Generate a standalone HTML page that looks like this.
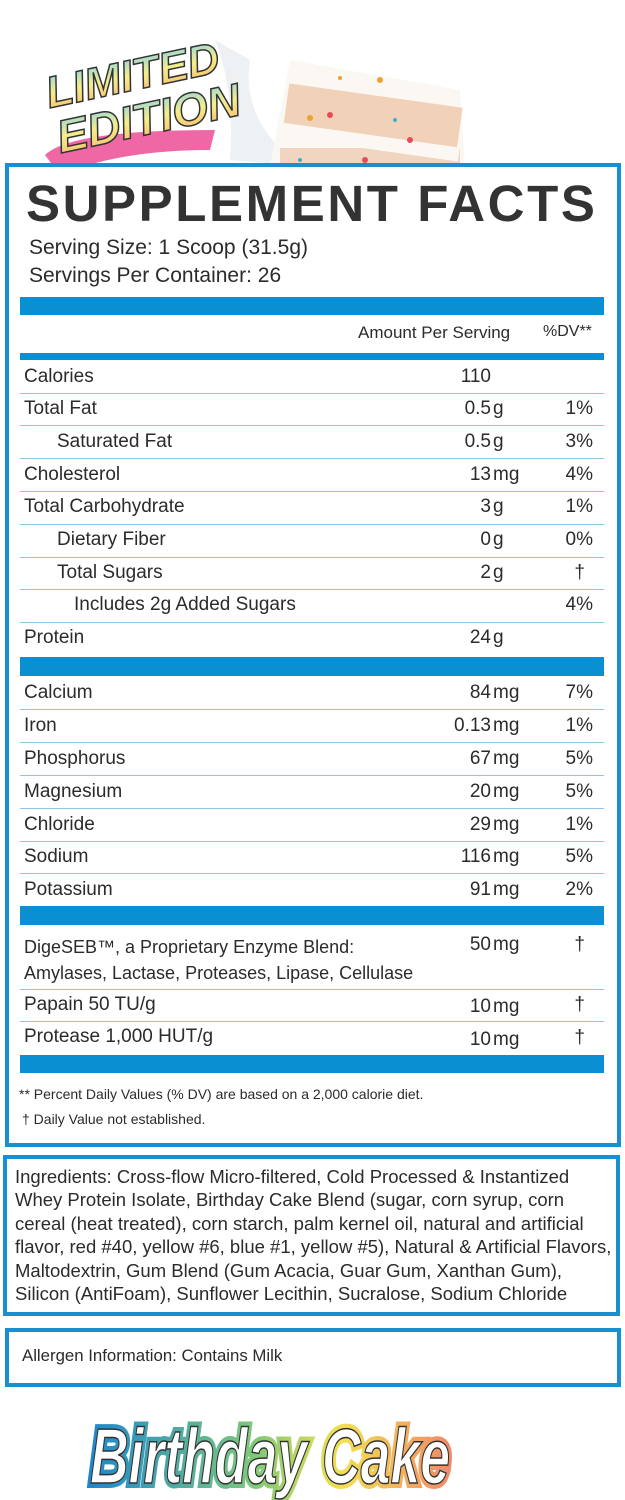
<!DOCTYPE html>
<html><head><meta charset="utf-8"><style>
*{margin:0;padding:0;box-sizing:border-box}
body{width:625px;height:1500px;background:#fff;position:relative;overflow:hidden;font-family:"Liberation Sans",Arial,sans-serif;color:#2b2b2b}
.a{position:absolute;white-space:nowrap}
.box{position:absolute;border:4px solid #1a8fd0}
.bar{position:absolute;left:20px;width:584px;background:#0a8fd3}
.ln{position:absolute;left:20px;width:584px;height:1px;background:#8cc4e4}
.r{font-size:19px;line-height:22px}
.num{position:absolute;right:134px;text-align:right;font-size:19px;line-height:22px}
.unit{position:absolute;left:493px;font-size:19px;line-height:22px}
.dv{position:absolute;right:32px;font-size:19px;line-height:22px;text-align:right}
</style></head><body>
<svg class="a" style="left:0;top:0" width="625" height="166">
 <defs><linearGradient id="g1" x1="0" y1="0" x2="0" y2="1"><stop offset="0" stop-color="#7fd0f0"/><stop offset=".5" stop-color="#f5ee8a"/><stop offset="1" stop-color="#f7b46a"/></linearGradient></defs>
 <path d="M215 40 Q235 90 230 160 L300 166 Q240 120 250 60Z" fill="#eef1f3"/>
 <path d="M290 60 L460 90 L465 166 L270 166Z" fill="#fbf8f3"/>
 <rect x="285" y="95" width="175" height="50" fill="#f1d2b8" transform="rotate(8 370 120)"/>
 <rect x="280" y="148" width="180" height="20" fill="#f0d6c0"/>
 <rect x="280" y="135" width="180" height="14" fill="#fbf7f2" transform="rotate(8 370 140)"/>
 <g fill="#e84a5a"><circle cx="330" cy="115" r="3"/><circle cx="410" cy="140" r="3"/><circle cx="365" cy="160" r="3"/></g>
 <g fill="#3ab0c8"><circle cx="350" cy="170" r="3"/><circle cx="395" cy="120" r="2"/><circle cx="300" cy="160" r="2"/></g>
 <g fill="#f0a030"><circle cx="310" cy="118" r="3"/><circle cx="380" cy="80" r="3"/><circle cx="340" cy="78" r="2"/></g>
 <path d="M45 155 Q70 130 215 130 L210 150 Q120 150 60 175Z" fill="#f067a6"/>
 <text x="45" y="95" font-family="Liberation Sans" font-weight="bold" font-style="italic" font-size="44" fill="url(#g1)" stroke="#333" stroke-width="1.5" transform="rotate(-12 110 80)">LIMITED</text>
 <text x="55" y="140" font-family="Liberation Sans" font-weight="bold" font-style="italic" font-size="46" fill="url(#g1)" stroke="#333" stroke-width="1.5" transform="rotate(-12 120 120)">EDITION</text>
</svg>

<div class="box" style="left:5px;top:163px;width:616px;height:984px"></div>
<div class="a" style="left:26px;top:174px;font-size:51px;font-weight:bold;color:#333;letter-spacing:2.6px">SUPPLEMENT FACTS</div>
<div class="a" style="left:29px;top:236px;font-size:21px">Serving Size: 1 Scoop (31.5g)</div>
<div class="a" style="left:29px;top:264px;font-size:21px">Servings Per Container: 26</div>
<div class="bar" style="top:297px;height:18px"></div>
<div class="a" style="left:358px;top:323px;font-size:17px">Amount Per Serving</div>
<div class="a" style="left:543px;top:323px;font-size:16px">%DV**</div>
<div class="bar" style="top:353px;height:7px"></div>

<div class="a r" style="left:24px;top:366px">Calories</div><div class="num" style="top:366px">110</div>
<div class="ln" style="top:393px"></div>
<div class="a r" style="left:24px;top:398px">Total Fat</div><div class="num" style="top:398px">0.5</div><div class="unit" style="top:398px">g</div><div class="dv" style="top:398px">1%</div>
<div class="ln" style="top:425px"></div>
<div class="a r" style="left:57px;top:431px">Saturated Fat</div><div class="num" style="top:431px">0.5</div><div class="unit" style="top:431px">g</div><div class="dv" style="top:431px">3%</div>
<div class="ln" style="top:458px"></div>
<div class="a r" style="left:24px;top:464px">Cholesterol</div><div class="num" style="top:464px">13</div><div class="unit" style="top:464px">mg</div><div class="dv" style="top:464px">4%</div>
<div class="ln" style="top:491px"></div>
<div class="a r" style="left:24px;top:496px">Total Carbohydrate</div><div class="num" style="top:496px">3</div><div class="unit" style="top:496px">g</div><div class="dv" style="top:496px">1%</div>
<div class="ln" style="top:524px"></div>
<div class="a r" style="left:57px;top:529px">Dietary Fiber</div><div class="num" style="top:529px">0</div><div class="unit" style="top:529px">g</div><div class="dv" style="top:529px">0%</div>
<div class="ln" style="top:557px"></div>
<div class="a r" style="left:57px;top:562px">Total Sugars</div><div class="num" style="top:562px">2</div><div class="unit" style="top:562px">g</div><div class="dv" style="top:562px;right:40px">†</div>
<div class="ln" style="top:589px"></div>
<div class="a r" style="left:74px;top:594px">Includes 2g Added Sugars</div><div class="dv" style="top:594px">4%</div>
<div class="ln" style="top:622px"></div>
<div class="a r" style="left:24px;top:627px">Protein</div><div class="num" style="top:627px">24</div><div class="unit" style="top:627px">g</div>
<div class="bar" style="top:657px;height:19px"></div>

<div class="a r" style="left:24px;top:682px">Calcium</div><div class="num" style="top:682px">84</div><div class="unit" style="top:682px">mg</div><div class="dv" style="top:682px">7%</div>
<div class="ln" style="top:709px"></div>
<div class="a r" style="left:24px;top:715px">Iron</div><div class="num" style="top:715px">0.13</div><div class="unit" style="top:715px">mg</div><div class="dv" style="top:715px">1%</div>
<div class="ln" style="top:742px"></div>
<div class="a r" style="left:24px;top:748px">Phosphorus</div><div class="num" style="top:748px">67</div><div class="unit" style="top:748px">mg</div><div class="dv" style="top:748px">5%</div>
<div class="ln" style="top:775px"></div>
<div class="a r" style="left:24px;top:781px">Magnesium</div><div class="num" style="top:781px">20</div><div class="unit" style="top:781px">mg</div><div class="dv" style="top:781px">5%</div>
<div class="ln" style="top:808px"></div>
<div class="a r" style="left:24px;top:814px">Chloride</div><div class="num" style="top:814px">29</div><div class="unit" style="top:814px">mg</div><div class="dv" style="top:814px">1%</div>
<div class="ln" style="top:841px"></div>
<div class="a r" style="left:24px;top:846px">Sodium</div><div class="num" style="top:846px">116</div><div class="unit" style="top:846px">mg</div><div class="dv" style="top:846px">5%</div>
<div class="ln" style="top:873px"></div>
<div class="a r" style="left:24px;top:879px">Potassium</div><div class="num" style="top:879px">91</div><div class="unit" style="top:879px">mg</div><div class="dv" style="top:879px">2%</div>
<div class="bar" style="top:906px;height:19px"></div>

<div class="a" style="left:24px;top:934px;font-size:18px;line-height:26px">DigeSEB™, a Proprietary Enzyme Blend:<br>Amylases, Lactase, Proteases, Lipase, Cellulase</div>
<div class="num" style="top:934px">50</div><div class="unit" style="top:934px">mg</div><div class="dv" style="top:934px;right:40px">†</div>
<div class="ln" style="top:989px"></div>
<div class="a r" style="left:24px;top:994px">Papain 50 TU/g</div><div class="num" style="top:996px">10</div><div class="unit" style="top:996px">mg</div><div class="dv" style="top:994px;right:40px">†</div>
<div class="ln" style="top:1021px"></div>
<div class="a r" style="left:24px;top:1026px">Protease 1,000 HUT/g</div><div class="num" style="top:1029px">10</div><div class="unit" style="top:1029px">mg</div><div class="dv" style="top:1027px;right:40px">†</div>
<div class="bar" style="top:1055px;height:18px"></div>
<div class="a" style="left:19px;top:1086px;font-size:14px">** Percent Daily Values (% DV) are based on a 2,000 calorie diet.</div>
<div class="a" style="left:22px;top:1111px;font-size:14px">† Daily Value not established.</div>

<div class="box" style="left:3px;top:1155px;width:617px;height:161px"></div>
<div class="a" style="left:15px;top:1165px;font-size:18.5px;line-height:23.4px">Ingredients: Cross-flow Micro-filtered, Cold Processed &amp; Instantized<br>Whey Protein Isolate, Birthday Cake Blend (sugar, corn syrup, corn<br>cereal (heat treated), corn starch, palm kernel oil, natural and artificial<br>flavor, red #40, yellow #6, blue #1, yellow #5), Natural &amp; Artificial Flavors,<br>Maltodextrin, Gum Blend (Gum Acacia, Guar Gum, Xanthan Gum),<br>Silicon (AntiFoam), Sunflower Lecithin, Sucralose, Sodium Chloride</div>

<div class="box" style="left:5px;top:1328px;width:616px;height:59px"></div>
<div class="a" style="left:22px;top:1346px;font-size:16.8px">Allergen Information: Contains Milk</div>

<svg class="a" style="left:0;top:1395px" width="625" height="105">
 <defs><linearGradient id="g2x" x1="0" y1="0" x2="1" y2="0"><stop offset="0" stop-color="#1e88cf"/><stop offset=".45" stop-color="#7cc87a"/><stop offset=".7" stop-color="#f3e050"/><stop offset="1" stop-color="#f08a6a"/></linearGradient></defs>
 <text x="90" y="88" textLength="360" lengthAdjust="spacingAndGlyphs" font-family="Liberation Sans" font-weight="bold" font-style="italic" font-size="78" fill="#fff" stroke="url(#g2x)" stroke-width="10" paint-order="stroke">Birthday Cake</text>
 <text x="90" y="88" textLength="360" lengthAdjust="spacingAndGlyphs" font-family="Liberation Sans" font-weight="bold" font-style="italic" font-size="78" fill="#fff" stroke="#333" stroke-width="1.5">Birthday Cake</text>
</svg>
</body></html>
